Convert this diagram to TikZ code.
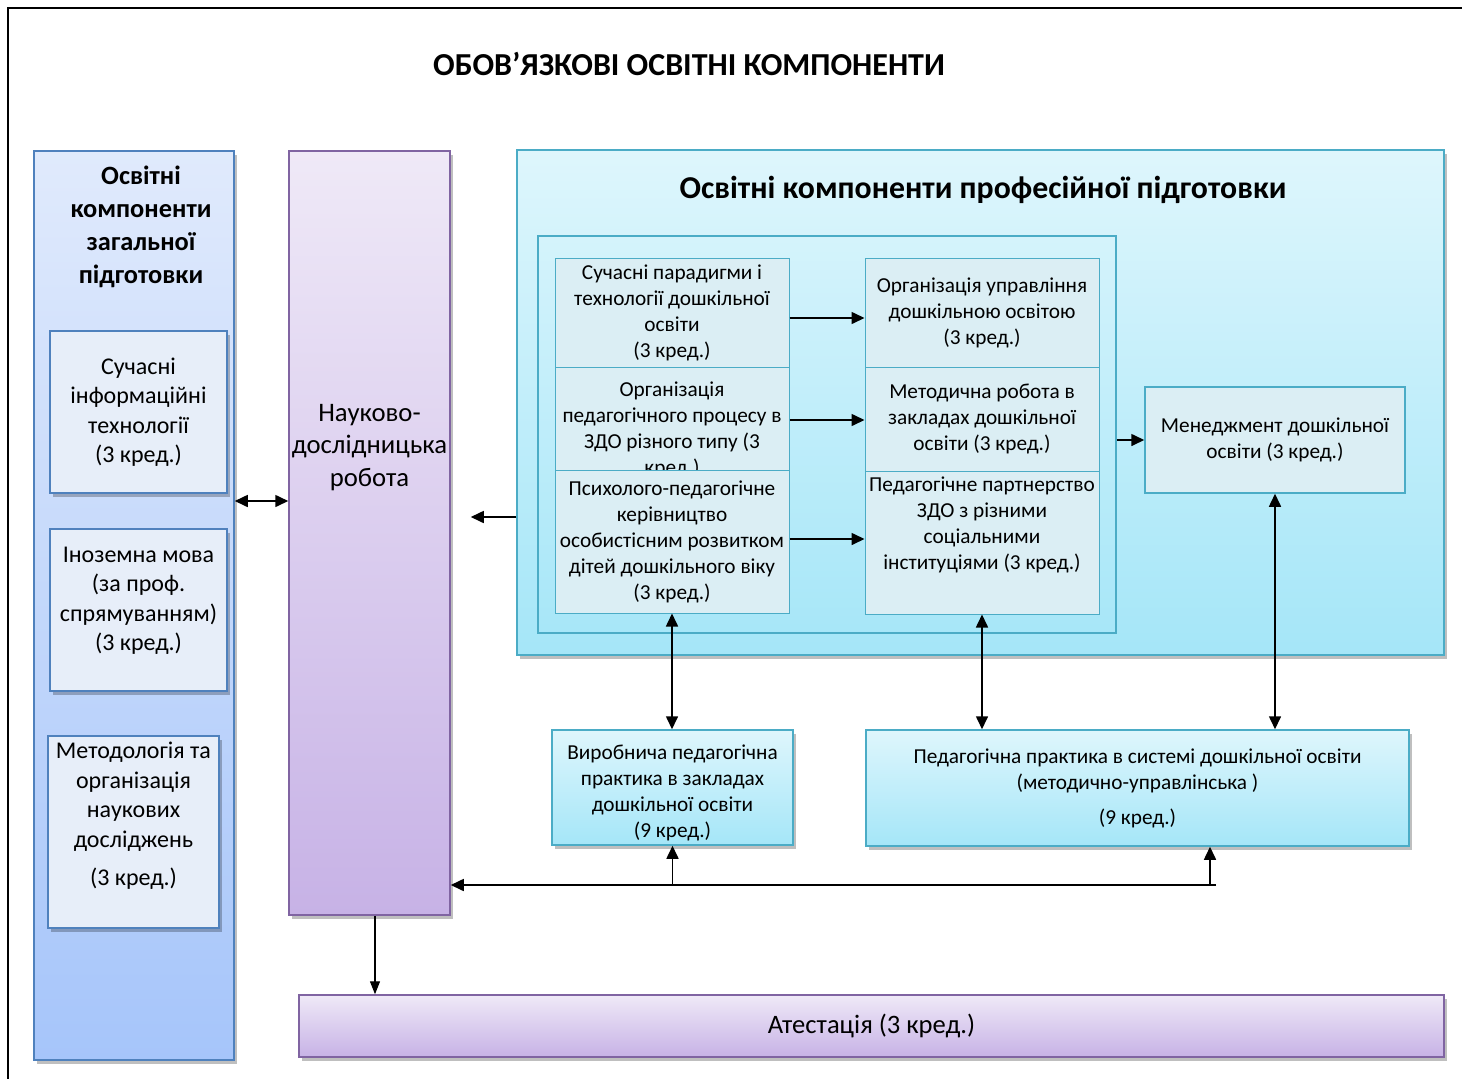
\documentclass[tikz,border=0pt]{standalone}
\usepackage{fontspec}
\setmainfont{Carlito}
\usetikzlibrary{arrows.meta,shadows}

\definecolor{gline}{RGB}{79,129,189}
\definecolor{gtop}{RGB}{224,234,252}
\definecolor{gbot}{RGB}{166,197,250}
\definecolor{gfill}{RGB}{231,238,249}
\definecolor{rline}{RGB}{128,100,162}
\definecolor{rtop}{RGB}{239,233,247}
\definecolor{rbot}{RGB}{199,178,230}
\definecolor{pline}{RGB}{75,172,198}
\definecolor{ptop}{RGB}{222,246,252}
\definecolor{pbot}{RGB}{165,230,248}
\definecolor{pfill}{RGB}{219,238,244}

\begin{document}
\begin{tikzpicture}[x=1pt,y=-1pt,
    shd/.style={drop shadow={shadow xshift=3pt,shadow yshift=-4pt,fill=black,opacity=.25}},
    gcolumn/.style={draw=gline,line width=1.5pt,top color=gtop,bottom color=gbot,shd},
    gfont/.style={font=\fontsize{24}{29.5}\selectfont},
    gbox/.style={draw=gline,line width=1.5pt,fill=gfill,shd,inner sep=0pt,align=center,gfont},
    rcolumn/.style={draw=rline,line width=1.5pt,top color=rtop,bottom color=rbot,shd},
    pcolumn/.style={draw=pline,line width=1.5pt,top color=ptop,bottom color=pbot,shd},
    pinner/.style={draw=pline,line width=1.5pt},
    pfont/.style={font=\fontsize{21.3}{26}\selectfont},
    pbox/.style={draw=pline,line width=1pt,fill=pfill,inner sep=0pt,align=center,
      minimum width=234pt,pfont},
    prac/.style={draw=pline,line width=1.5pt,top color=ptop,bottom color=pbot,shd,inner sep=0pt,
      align=center,pfont},
    lab/.style={align=center},
    hd/.style={font=\fontsize{26.4}{33}\selectfont\bfseries,align=center},
    arr/.style={line width=1.6pt,-{Triangle[length=13pt,width=12pt]}},
    darr/.style={line width=1.6pt,{Triangle[length=13pt,width=12pt]}-{Triangle[length=13pt,width=12pt]}}]
  \useasboundingbox (0,0) rectangle (1462,1079);
  \draw[line width=2pt] (1480,8) -| (8,1100);
  \node[font=\fontsize{32}{36}\selectfont\bfseries] (title) at (689,64) {ОБОВ’ЯЗКОВІ ОСВІТНІ КОМПОНЕНТИ};

  % general training
  \node[gcolumn,minimum width=200pt,minimum height=909pt] (gcol) at (134,605.5) {};
  \node[hd] (gtitle) at (141,227) {Освітні\\компоненти\\загальної\\підготовки};
  \node[gbox,minimum width=177pt,minimum height=162pt] (g1) at (138.5,412) {Сучасні\\інформаційні\\технології\\(3 кред.)};
  \node[gbox,minimum width=177pt,minimum height=162pt,
    label={[lab,gfont,yshift=9pt]center:{Іноземна мова\\(за проф.\\спрямуванням)\\(3 кред.)}}] (g2) at (138.5,610) {};
  \node[gbox,minimum width=171pt,minimum height=192pt,
    label={[lab,gfont,yshift=16pt]center:{Методологія та\\організація\\наукових\\досліджень\\[9pt](3 кред.)}}] (g3) at (133.5,832) {};

  % research
  \node[rcolumn,minimum width=161pt,minimum height=764pt,
    label={[lab,font=\fontsize{26.7}{32.5}\selectfont,yshift=85.5pt]center:{Науково-\\дослідницька\\робота}}] (rcol) at (369.5,533) {};

  % professional training
  \node[pcolumn,minimum width=927pt,minimum height=505pt] (pcol) at (980.5,402.5) {};
  \node[font=\fontsize{31.8}{36}\selectfont\bfseries] (ptitle) at (983,190) {Освітні компоненти професійної підготовки};
  \node[pinner,minimum width=578pt,minimum height=397pt] (pin) at (827,434.5) {};
  \node[pbox,minimum height=109pt] (pk1) at (672,312.5) {Сучасні парадигми і\\технології дошкільної\\освіти\\(3 кред.)};
  \node[pbox,minimum height=103pt,
    label={[lab,pfont,yshift=-11.5pt]center:{Організація\\педагогічного процесу в\\ЗДО різного типу (3\\кред.)}}] (pk2) at (672,418.5) {};
  \node[pbox,minimum height=143pt] (pk3) at (672,541.5) {Психолого-педагогічне\\керівництво\\особистісним розвитком\\дітей дошкільного віку\\(3 кред.)};
  \node[pbox,minimum height=109pt] (pm1) at (982,312.5) {Організація управління\\дошкільною освітою\\(3 кред.)};
  \node[pbox,minimum height=104pt] (pm2) at (982,419) {Методична робота в\\закладах дошкільної\\освіти (3 кред.)};
  \node[pbox,minimum height=143pt,
    label={[lab,pfont,yshift=17.5pt]center:{Педагогічне партнерство\\ЗДО з різними\\соціальними\\інституціями (3 кред.)}}] (pm3) at (982,542.5) {};
  \node[pbox,line width=1.5pt,minimum width=260pt,minimum height=106pt] (mgmt) at (1275,440) {Менеджмент дошкільної\\освіти (3 кред.)};

  % practice
  \node[prac,minimum width=241pt,minimum height=115pt,
    label={[lab,pfont,yshift=-5.5pt]center:{Виробнича педагогічна\\практика в закладах\\дошкільної освіти\\(9 кред.)}}] (vp) at (672.5,787.5) {};
  \node[prac,minimum width=543pt,minimum height=116pt] (pp) at (1137.5,788) {Педагогічна практика в системі дошкільної освіти\\(методично-управлінська )\\[9pt](9 кред.)};
  \node[rcolumn,minimum width=1145pt,minimum height=62pt,font=\fontsize{26.6}{30}\selectfont] (att) at (871.5,1026) {Атестація (3 кред.)};

  \coordinate (lend) at (1216,885);
  \coordinate (rjoin) at (1210,885);

  \draw[darr] (gcol.east |- 0,501) -- (rcol.west |- 0,501);
  \draw[arr,shorten >=20pt] (pcol.west |- 0,517) -- (rcol.east |- 0,517);
  \draw[arr] (pk1.east |- 0,318) -- (pm1.west |- 0,318);
  \draw[arr] (pk2.east |- 0,420) -- (pm2.west |- 0,420);
  \draw[arr] (pk3.east |- 0,539) -- (pm3.west |- 0,539);
  \draw[arr] (pin.east |- 0,440) -- (mgmt.west |- 0,440);
  \draw[darr] (pk3.south) -- (pk3.south |- vp.north);
  \draw[darr] (pm3.south) -- (pm3.south |- pp.north);
  \draw[darr] (mgmt.south) -- (mgmt.south |- pp.north);
  \draw[arr] (lend) -- (rcol.east |- lend);
  \draw[arr] (vp.south |- lend) -- (vp.south);
  \draw[arr] (rjoin) -- (rjoin |- pp.south);
  \draw[line width=1.2pt,-{Triangle[length=13pt,width=10pt]}] ([xshift=5.5pt]rcol.south) -- ([xshift=5.5pt]rcol.south |- att.north);
\end{tikzpicture}
\end{document}
